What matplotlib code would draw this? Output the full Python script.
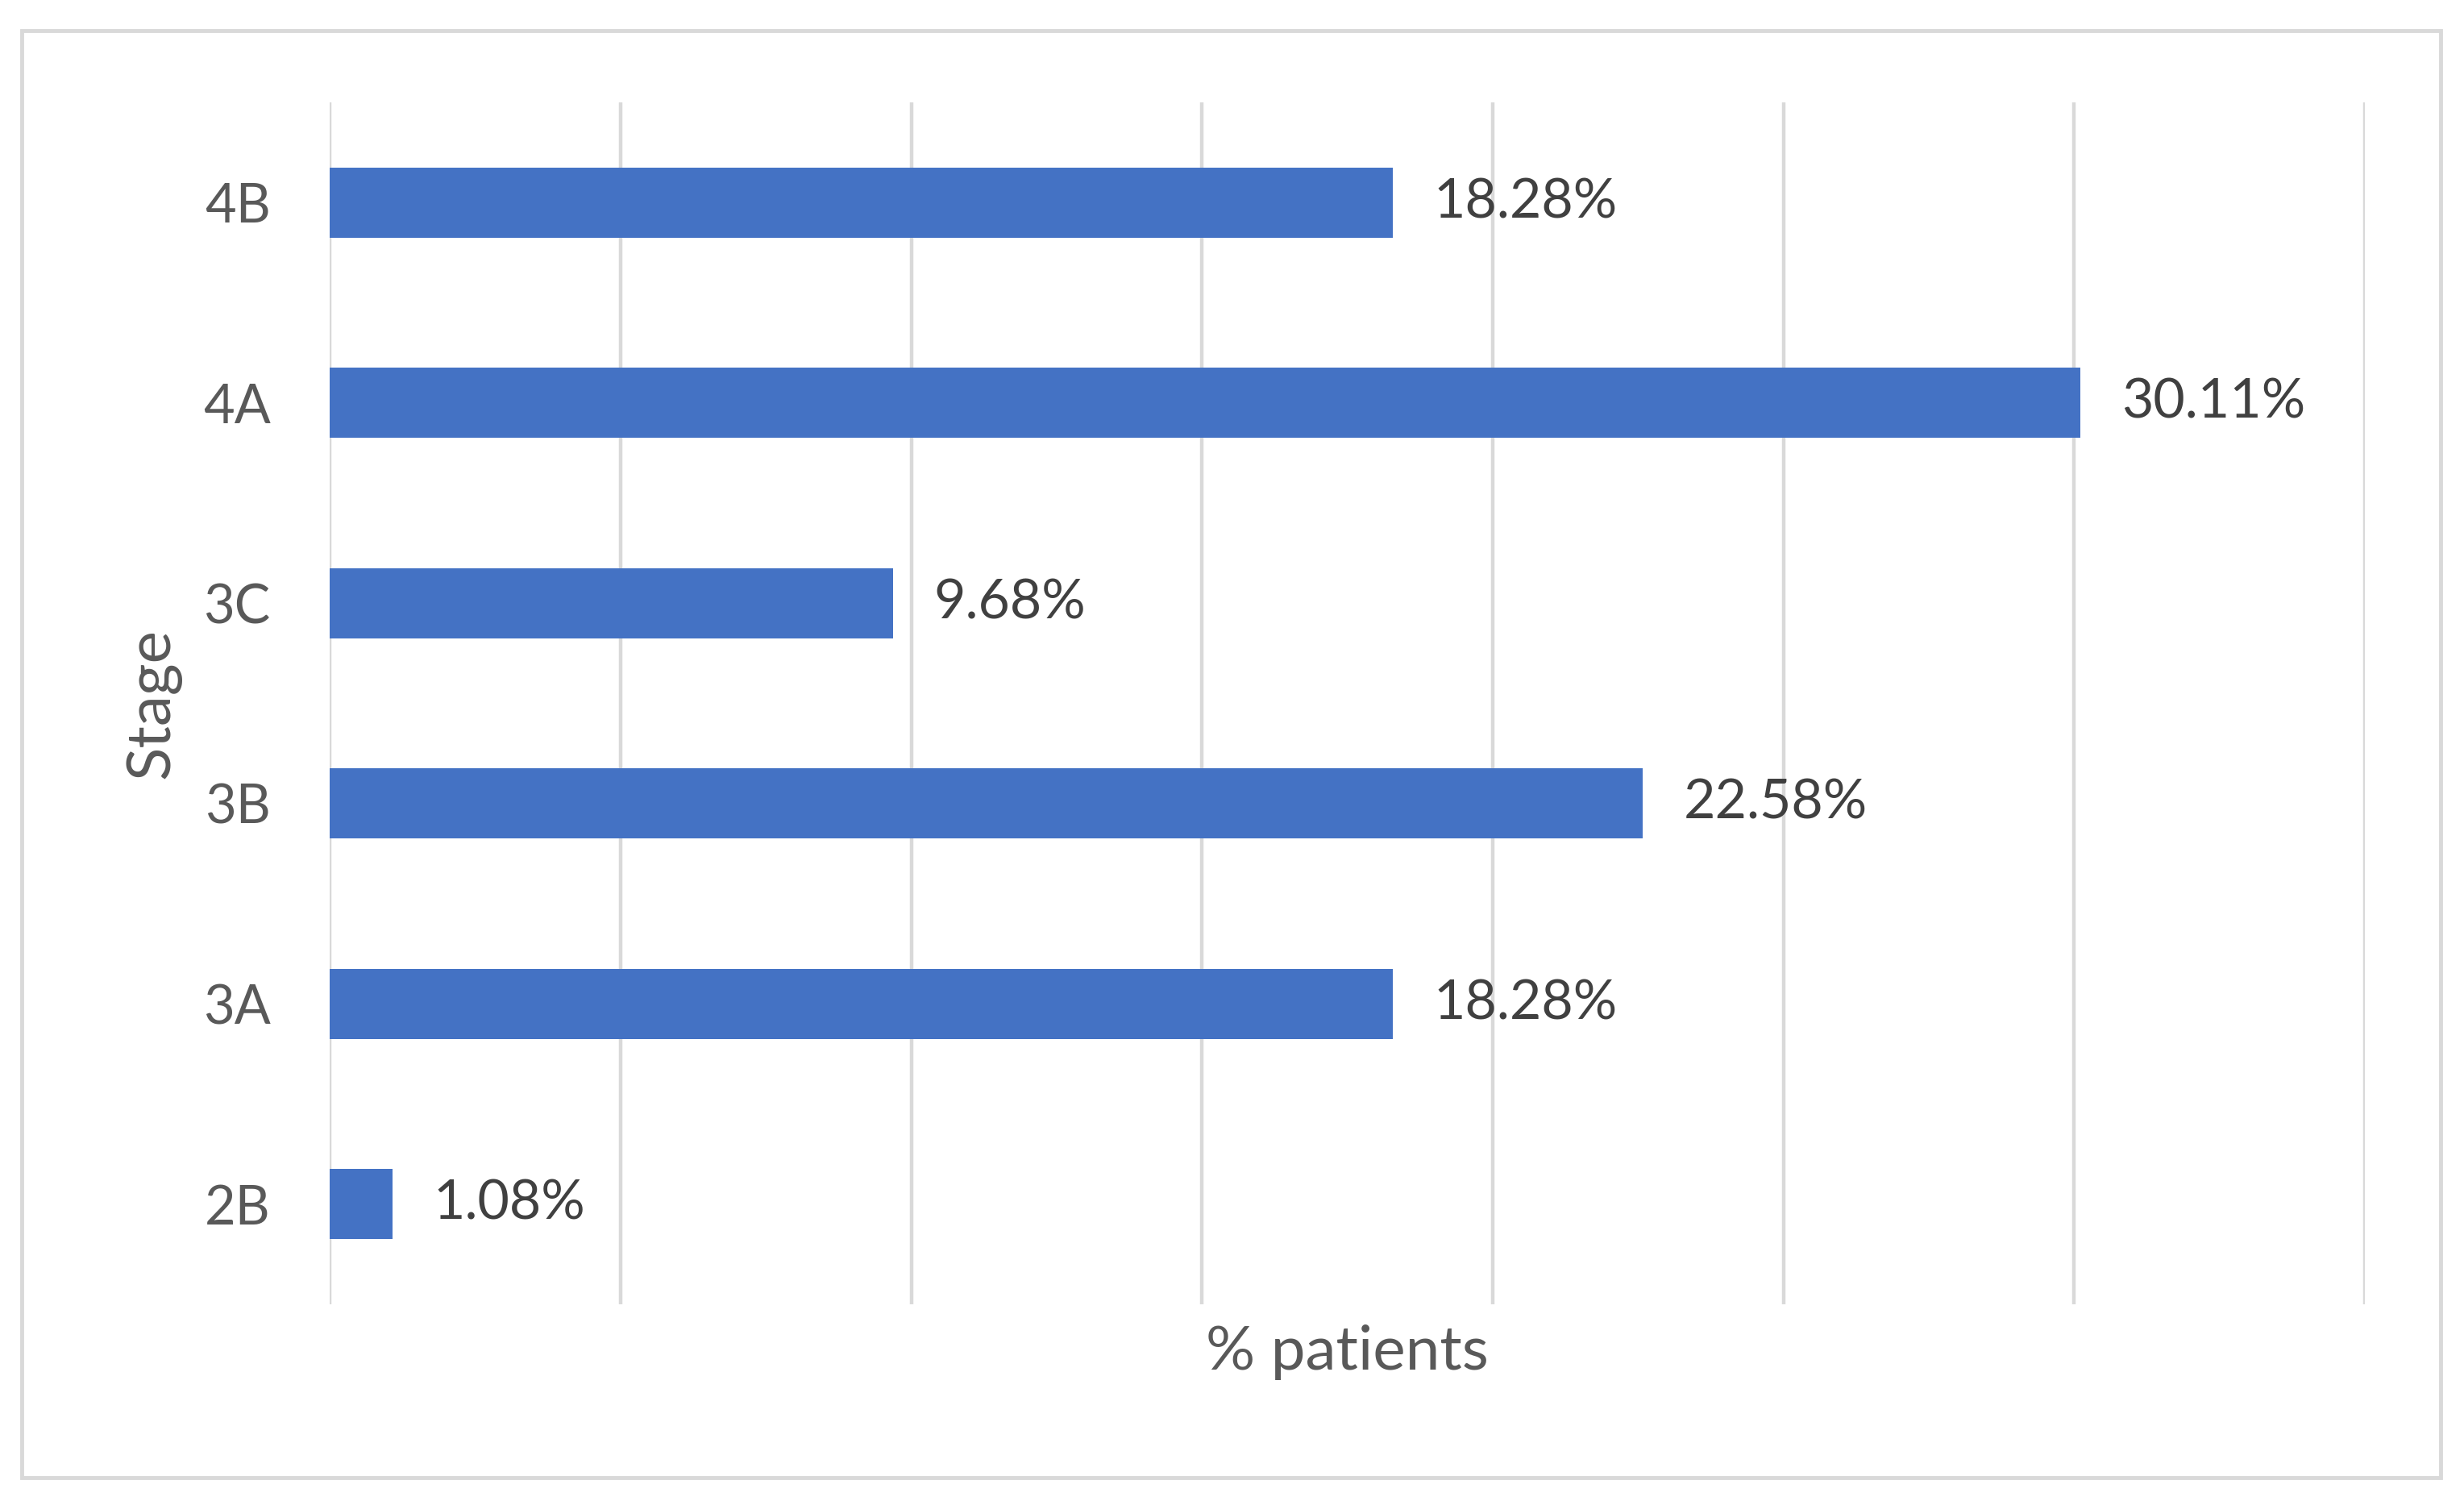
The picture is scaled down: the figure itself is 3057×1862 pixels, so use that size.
import matplotlib
matplotlib.use("Agg")
import matplotlib.pyplot as plt
from matplotlib.patches import Rectangle

# stage distribution
stages = ["2B", "3A", "3B", "3C", "4A", "4B"]
pct = [1.08, 18.28, 22.58, 9.68, 30.11, 18.28]
x_ticks = [0, 5, 10, 15, 20, 25, 30, 35]

BAR_COLOR = "#4472C4"
GRID_COLOR = "#D9D9D9"

plt.rcParams["font.family"] = ["Lato", "DejaVu Sans"]

fig = plt.figure(figsize=(30.57, 18.62), dpi=100)
ax = fig.add_axes([0.1339, 0.1309, 0.8259, 0.801])

# outer chart frame
fig.patches.append(Rectangle((0.0089, 0.0157), 0.9815, 0.9641,
                             transform=fig.transFigure, fill=False,
                             edgecolor=GRID_COLOR, linewidth=3.5))

ax.barh(range(len(stages)), pct, height=0.35, color=BAR_COLOR, zorder=3)

for i, v in enumerate(pct):
    ax.text(v + 0.7, i, f"{v:.2f}%", va="center", ha="left",
            fontsize=49, color="#404040", zorder=4)

ax.set_xlim(0, 35)
ax.set_ylim(-0.5, len(stages) - 0.5)
ax.set_xticks(x_ticks)
ax.set_xticklabels([])
ax.set_yticks(range(len(stages)))
ax.set_yticklabels(stages, fontsize=48, color="#595959")
ax.tick_params(axis="both", length=0)
ax.tick_params(axis="y", pad=53)
ax.grid(axis="x", color=GRID_COLOR, linewidth=3.2, zorder=0)
for s in ax.spines.values():
    s.set_visible(False)

ax.set_xlabel("% patients", fontsize=55, color="#595959", labelpad=14)
ax.set_ylabel("Stage", fontsize=55, color="#595959", labelpad=20)

fig.savefig("out.png", dpi=100, facecolor="white")
